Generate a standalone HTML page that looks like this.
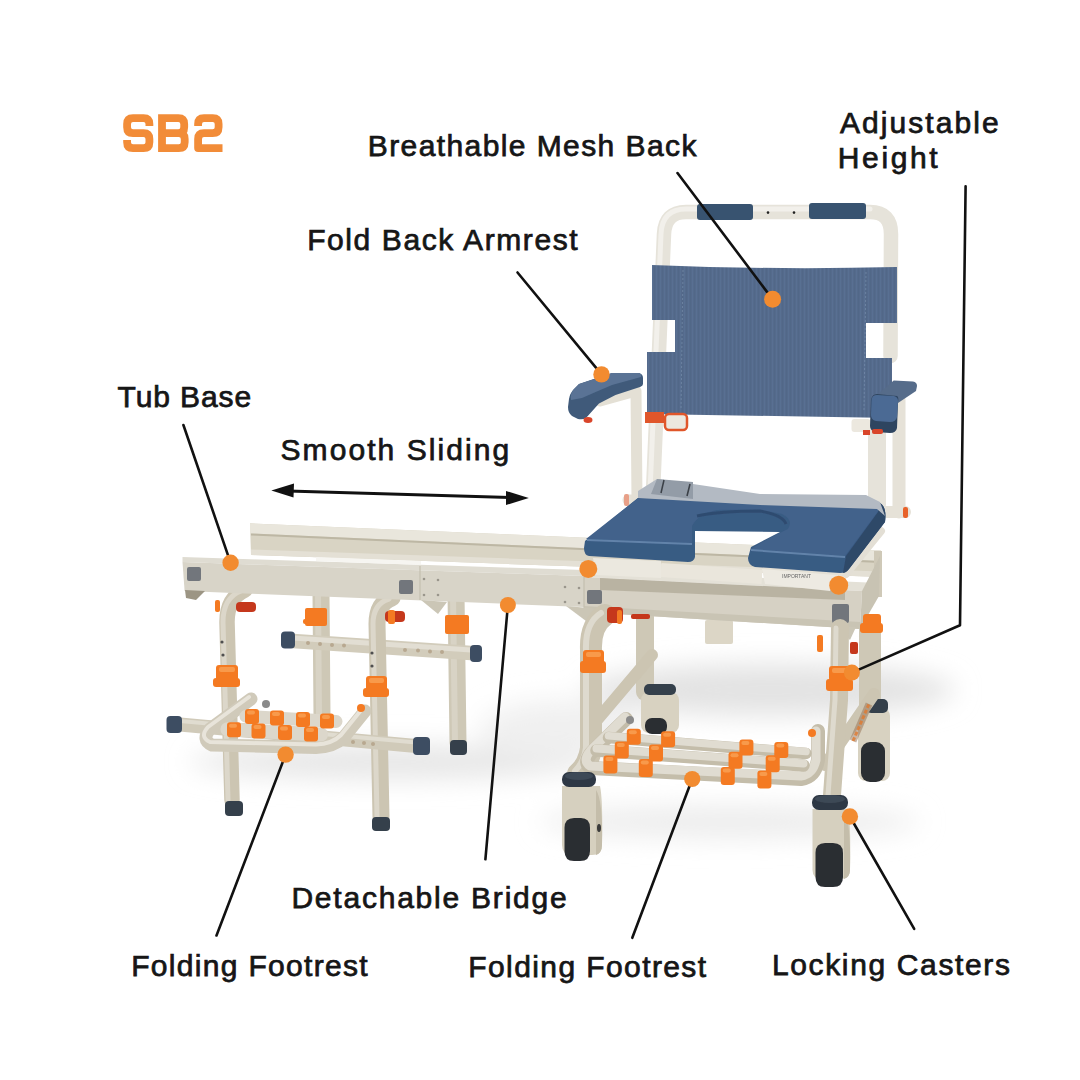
<!DOCTYPE html>
<html><head><meta charset="utf-8">
<style>
html,body{margin:0;padding:0;background:#fff;width:1080px;height:1080px;overflow:hidden}
svg{display:block}
.lb{font-family:"Liberation Sans",sans-serif;font-size:30px;fill:#161616;stroke:#161616;stroke-width:0.75px}
.cl{stroke:#111;stroke-width:2.6;fill:none;stroke-linecap:round;stroke-linejoin:round}
.dot{fill:#F28B30}
.tb{fill:none;stroke-linecap:round;stroke-linejoin:round}
</style></head><body>
<svg width="1080" height="1080" viewBox="0 0 1080 1080">
<defs>
<filter id="blur" x="-50%" y="-50%" width="200%" height="200%"><feGaussianBlur stdDeviation="13"/></filter>
<pattern id="mesh" width="4" height="6" patternUnits="userSpaceOnUse"><rect width="4" height="6" fill="#546B8C"/><rect x="0" y="0" width="1" height="6" fill="#6179A0" opacity="0.3"/><rect x="2" y="0" width="1" height="6" fill="#485E7E" opacity="0.3"/></pattern>
<filter id="soft" x="-5%" y="-5%" width="110%" height="110%"><feGaussianBlur stdDeviation="0.55"/></filter>
</defs>
<rect width="1080" height="1080" fill="#fff"/>

<!-- shadow -->
<g filter="url(#blur)">
<ellipse cx="770" cy="690" rx="185" ry="26" fill="#e3e3e3"/>
<ellipse cx="730" cy="822" rx="190" ry="16" fill="#ececec"/>
<ellipse cx="390" cy="762" rx="200" ry="17" fill="#e6e6e6"/>
<ellipse cx="560" cy="730" rx="80" ry="30" fill="#f0f0f0"/>
</g>

<!-- SB2 logo -->
<g fill="none" stroke="#F28C38" stroke-width="7.8" stroke-linejoin="round">
<path d="M149.4,126 V124 Q149.4,118.1 143.5,118.1 H133 Q127.1,118.1 127.1,124 V127.2 Q127.1,133.1 133,133.1 H143.5 Q149.4,133.1 149.4,139 V142.2 Q149.4,148.1 143.5,148.1 H133 Q127.1,148.1 127.1,142.2 V140"/>
<path d="M162,118.1 H178.3 Q184.2,118.1 184.2,124 V127.2 Q184.2,133.1 178.3,133.1 H162 M162,133.1 H178.8 Q184.7,133.1 184.7,139 V142.2 Q184.7,148.1 178.8,148.1 H162 M162,114.2 V152"/>
<path d="M198.1,126 V124 Q198.1,118.1 204,118.1 H212.7 Q218.6,118.1 218.6,124 V127.2 Q218.6,133.1 212.7,133.1 H204 Q198.1,133.1 198.1,139 V148.1 H222.5"/>
</g>

<!-- ============ CHAIR ============ -->
<g id="chair" filter="url(#soft)">
<!-- ===== left group: rear legs ===== -->
<g class="tb" stroke="#CEC8B6" stroke-linecap="butt">
<path d="M321,594 L322,716" stroke-width="17"/>
<path d="M456,594 L458,743" stroke-width="17"/>
</g>
<g class="tb" stroke="#D8D3C5" stroke-linecap="butt">
<path d="M318,594 L319,716" stroke-width="6"/>
<path d="M453,594 L455,743" stroke-width="6"/>
</g>
<rect x="450" y="740" width="17" height="15" rx="4" fill="#34404C"/>
<!-- rear crossbar -->
<path d="M293,641 L471,653" stroke="#D2CCBB" stroke-width="14.5"/>
<path d="M293,638 L471,650" stroke="#E2DED3" stroke-width="5"/>
<g fill="#B8A890">
<circle cx="308" cy="643" r="2"/><circle cx="320" cy="644" r="2"/><circle cx="332" cy="645" r="2"/><circle cx="344" cy="645.5" r="2"/>
<circle cx="405" cy="650" r="2"/><circle cx="418" cy="650.5" r="2"/><circle cx="430" cy="651.5" r="2"/><circle cx="442" cy="652" r="2"/>
</g>
<g fill="#3D4D62">
<rect x="281" y="631.5" width="14" height="17" rx="4"/>
<rect x="470" y="645" width="12" height="17" rx="4"/>
</g>
<g fill="#F47A22">
<rect x="305" y="608" width="22" height="18" rx="2"/>
<rect x="445" y="615" width="24" height="19" rx="2"/>
</g>
<rect x="303" y="619" width="10" height="5" rx="2" fill="#F47A22"/>

<!-- ===== chair rear legs & casters ===== -->
<g class="tb" stroke="#CEC8B6" stroke-linecap="butt">
<path d="M645,612 L645,692" stroke-width="18"/>
<path d="M870,628 L870,705" stroke-width="22"/>
</g>
<g>
<rect x="641" y="692" width="38" height="41" rx="8" fill="#D8D2C1"/>
<rect x="644" y="684" width="32" height="11" rx="5" fill="#34404C"/>
<rect x="645" y="718" width="22" height="16" rx="7" fill="#2A2D31"/>
<rect x="858" y="708" width="32" height="73" rx="8" fill="#D8D2C1"/>
<rect x="861" y="742" width="24" height="40" rx="9" fill="#2A2D31"/>
<rect x="866" y="699" width="22" height="14" rx="5" fill="#34404C"/>
</g>
<rect x="705" y="620" width="28" height="24" rx="2" fill="#DCD6C6"/>

<!-- ===== upper sliding rail ===== -->
<polygon points="250,523.3 881,550.5 881,577 251,555" fill="#D9D4C4"/>
<polygon points="250,523.3 881,550.5 881,561 250,533.5" fill="#E9E6DC"/>
<path d="M251,534.5 L881,562" stroke="#BDB7A4" stroke-width="2"/>
<polygon points="251,549.5 881,571.5 881,577 251,555" fill="#E4E0D5"/>
<polygon points="874,551 882,551 882,597 874,597" fill="#CFC9B8"/>

<!-- ===== back frame ===== -->
<path class="tb" d="M653,492 L664,234 Q665,212 686,212 L870,212 Q891,212 891,234 L890.5,356" stroke="#E6E3DA" stroke-width="14.5" stroke-linecap="butt"/>
<path class="tb" d="M877,425 L877,505" stroke="#E6E3DA" stroke-width="18"/>
<path class="tb" d="M650,492 L661,234 Q662,209 686,209 L870,209" stroke="#F2F0EB" stroke-width="5"/>
<path class="tb" d="M899,400 L899,512" stroke="#E6E2D8" stroke-width="13"/>
<path class="tb" d="M877,512 L905,512" stroke="#E6E2D8" stroke-width="12"/>
<rect x="903" y="507" width="5" height="11" rx="2" fill="#E8622C"/>
<path class="tb" d="M628,500 L650,500" stroke="#E6E2D8" stroke-width="11"/>
<rect x="624" y="494" width="5" height="12" rx="2" fill="#E8A088"/>
<g fill="#37536F">
<rect x="697" y="204" width="56" height="16" rx="3"/>
<rect x="809" y="203" width="57" height="16" rx="3"/>
</g>
<circle cx="768" cy="212.6" r="1.3" fill="#222"/>
<circle cx="794" cy="212.6" r="1.3" fill="#222"/>

<!-- ===== mesh back ===== -->
<path d="M652,265 Q775,270 897,267 L897,323 L866,323 L866,358 L892,358 L892,418 L647,414 L647,352 L675,352 L675,320 L652,320 Z" fill="url(#mesh)"/>
<g stroke="#7D93B0" stroke-width="1" stroke-dasharray="2 2" opacity="0.6">
<line x1="683" y1="270" x2="681" y2="410"/>
<line x1="866" y1="272" x2="864" y2="410"/>
</g>
<!-- hinges under back -->
<rect x="645" y="412" width="19" height="11" fill="#E0562A"/>
<rect x="665" y="414" width="22" height="16" rx="4" fill="#ECE8DF" stroke="#E0562A" stroke-width="2.5"/>
<rect x="851.5" y="419" width="19" height="13" rx="3" fill="#ECE8DF"/>
<rect x="863" y="430" width="7" height="5" fill="#D9452A"/>

<!-- left armrest support -->
<path class="tb" d="M600,401 L636,391 L637,500" stroke="#E4E0D5" stroke-width="11"/>
<!-- left armrest -->
<path d="M612,373 L639,373 Q643,374 643,378 L643,384 Q643,386 640,387 L615.5,395 L599,403.5 L586,418 Q583,420 578,419 L572,416 Q568,413 568,407 L569,399 Q570,393 574,389 L579,384 Z" fill="#3F5A7A"/>
<path d="M612,373 L639,373 Q642,374 641,377 L612,385 L598,391 L582,398 L571,400 Q570,393 574,389 L579,384 Z" fill="#5A7395"/>
<ellipse cx="588" cy="420" rx="4.5" ry="3" fill="#D9452A"/>
<!-- right armrest -->
<path d="M893.7,380.4 L913,381.5 Q917,382 917,386 L916,391 L898,403 L877,395 Z" fill="#566C8A"/>
<path d="M877,394 L897,396 Q899,397 898,402 L897,428 Q896,433 890,433 L876,432 Q870,431 870,426 L871,400 Q872,394 877,394 Z" fill="#2F4560"/>
<path d="M877,395 L894,396 Q898,397 898,401 L897,417 Q896,422 890,422 L876,421 Q871,420 871,415 L871.5,400 Q872,395 877,395 Z" fill="#4C6B94"/>
<rect x="872" y="429" width="11" height="5" rx="2" fill="#D9452A"/>

<!-- ===== seat ===== -->
<!-- right carriage strip -->
<path d="M846,574 L881,531" stroke="#E3DFD5" stroke-width="8" stroke-linecap="round"/>
<path d="M638,498 L880,503 Q887,507 885,522 L849,569 Q846,573 840,573 L755,567 Q748,565 748,558 L751,547 L780,532 L695,531 L695,557 Q694,562 688,562 L589,556 Q584,555 584,548 L585,541 Z" fill="#395B83"/>
<path d="M880,503 Q887,507 885,522 L849,569 Q846,573 843,573 L846,556 L878,512 Z" fill="#2F4868"/>
<path d="M638,498 L878,503 Q881,509 876,514 L845,556 L751,549 Q770,537 788,529 Q794,520 782,514 Q760,509 717,510 Q699,513 692,526 L692,543 L586,539 Z" fill="#42628B"/>
<path d="M587,540 L692,544" stroke="#6283AA" stroke-width="2"/>
<path d="M751,550 L845,557" stroke="#6283AA" stroke-width="2"/>
<path d="M697,516 Q720,511 760,511 Q783,515 786,524" stroke="#2F4C70" stroke-width="3" fill="none"/>
<!-- belt -->
<polygon points="638,491 657,479 693,484 760,494 866,495 880,502 885,516 877,509 760,505 638,498" fill="#B3BAC3"/>
<polygon points="657,479 693,482 693,499 651,494" fill="#939CA7"/>
<line x1="664" y1="480" x2="661" y2="493" stroke="#3A3F46" stroke-width="1.5"/>
<line x1="690" y1="484" x2="687" y2="496" stroke="#3A3F46" stroke-width="1.5"/>

<!-- left front leg tubes (behind beam) -->
<g class="tb" stroke="#CCC5B2">
<path d="M245,590 Q227,598 227,622 L232,800" stroke-width="15.5"/>
<path d="M392,598 Q377,603 377,624 L381,817" stroke-width="17"/>
</g>
<g class="tb" stroke="#DCD7CA">
<path d="M241,591 Q223,598 223,622 L228,800" stroke-width="5"/>
<path d="M389,599 Q373,604 373,624 L377,817" stroke-width="5"/>
</g>
<!-- ===== beam ===== -->
<!-- left section -->
<polygon points="182.5,557 584,570 584,576 182.5,562" fill="#DFDCD2"/>
<polygon points="182.5,562 584,576 584,607 184.6,591" fill="#D8D4C8"/>
<polygon points="316,557 421,561 421,565 316,561" fill="#F6F5F1"/>
<!-- right section -->
<polygon points="584,570 879,583 862,591 584,577" fill="#E4E1D7"/>
<polygon points="584,577 862,591 860,629 584,612" fill="#D6D1C4"/>
<polygon points="584,606 860,622 860,629 584,612" fill="#C9C4B4"/>
<polygon points="600,578 845,590 845,600 600,590" fill="#A39A86" opacity="0.55"/>
<polygon points="862,591 880,556 879,596 860,629" fill="#C8C3B3"/>
<line x1="584" y1="572" x2="584" y2="612" stroke="#C4BFAF" stroke-width="1.2"/>
<line x1="420" y1="566" x2="420" y2="600" stroke="#C4BFAF" stroke-width="1.2"/>
<!-- flanges -->
<g fill="#CBC6B6">
<polygon points="185,590 205,591 196,600 186,598" fill="#9C9584"/>
<polygon points="421,600 447,602 438,614"/>
<polygon points="566,606 600,609 586,621"/>
<polygon points="836,626 856,627 850,640"/>
</g>
<!-- white tube under seat -->
<path d="M661,570 L762,577" stroke="#EAE6DC" stroke-width="14"/>
<!-- white plates -->
<polygon points="593,558 661,561 661,578 596,575" fill="#EBE8DF"/>
<polygon points="762,569 836,575 830,591 765,584" fill="#EDEAE2"/>
<g fill="#666" font-family="Liberation Sans" font-size="5"><text x="782" y="578">IMPORTANT</text></g>
<!-- brackets -->
<g fill="#72767C">
<rect x="187" y="567" width="14" height="14" rx="2"/>
<rect x="399" y="580" width="14" height="14" rx="2"/>
<rect x="587" y="590" width="15" height="14" rx="2"/>
<rect x="832" y="604" width="17" height="19" rx="2"/>
</g>
<g fill="#9A968C">
<circle cx="424" cy="579" r="1.3"/><circle cx="438" cy="580" r="1.3"/><circle cx="424" cy="595" r="1.3"/><circle cx="438" cy="595" r="1.3"/>
<circle cx="565" cy="587" r="1.3"/><circle cx="579" cy="588" r="1.3"/><circle cx="565" cy="602" r="1.3"/><circle cx="579" cy="603" r="1.3"/>
</g>

<!-- ===== left group: front legs ===== -->
<g fill="#34404C">
<rect x="225" y="801" width="18" height="15" rx="4"/>
<rect x="372" y="817" width="18" height="14" rx="4"/>
</g>
<g fill="#F47A22">
<rect x="216" y="665" width="22" height="16" rx="3"/>
<rect x="213" y="678" width="27" height="9" rx="3"/>
<rect x="366" y="676" width="21" height="15" rx="3"/>
<rect x="363" y="688" width="26" height="9" rx="3"/>
</g>
<g fill="#F89A4C">
<rect x="219" y="667" width="16" height="5" rx="2"/>
<rect x="369" y="678" width="15" height="5" rx="2"/>
</g>
<g fill="#C5391F">
<rect x="236" y="602" width="20" height="10" rx="4"/>
<rect x="385" y="611" width="20" height="11" rx="4"/>
</g>
<g fill="#F47A22">
<rect x="215" y="600" width="5" height="12" rx="2"/>
<rect x="388" y="610" width="7" height="14" rx="2"/>
</g>
<g fill="#505050">
<circle cx="222" cy="642" r="1.6"/><circle cx="223" cy="655" r="1.6"/>
<circle cx="372" cy="653" r="1.6"/><circle cx="372" cy="666" r="1.6"/>
</g>
<!-- front crossbar -->
<path d="M180,724.5 L416,746" stroke="#D0CAB9" stroke-width="14"/>
<path d="M180,721 L416,742.5" stroke="#E0DCD0" stroke-width="4"/>
<g fill="#B8A890"><circle cx="341" cy="741" r="2"/><circle cx="353" cy="742" r="2"/><circle cx="364" cy="743" r="2"/><circle cx="373" cy="744" r="2"/></g>
<g fill="#3D4D62">
<rect x="166.5" y="716" width="15.5" height="17" rx="4"/>
<rect x="413" y="737" width="17" height="18" rx="4"/>
</g>
<!-- left footrest -->
<path class="tb" d="M251,699 L210,729 Q201,740 212,745 L316,747.5 Q334,747 344,737 L365,711" stroke="#D0CABA" stroke-width="13"/>
<path class="tb" d="M249,697 L208,727 Q199,737 210,742 L316,744.5 Q332,744 341,735 L362,709" stroke="#E8E4DA" stroke-width="4"/>
<path class="tb" d="M246,716.3 L336,721.5" stroke="#DCD7CB" stroke-width="13"/>
<path class="tb" d="M227.4,729.3 L321,734.5" stroke="#DCD7CB" stroke-width="14"/>
<g>
<rect x="245.0" y="709.1" width="14" height="15" rx="3" fill="#F47A22"/>
<rect x="247.0" y="710.6" width="8" height="4" rx="2" fill="#F89A4C"/>
<rect x="270.0" y="710.6" width="14" height="15" rx="3" fill="#F47A22"/>
<rect x="272.0" y="712.1" width="8" height="4" rx="2" fill="#F89A4C"/>
<rect x="296.0" y="712.1" width="14" height="15" rx="3" fill="#F47A22"/>
<rect x="298.0" y="713.6" width="8" height="4" rx="2" fill="#F89A4C"/>
<rect x="320.0" y="713.5" width="14" height="15" rx="3" fill="#F47A22"/>
<rect x="322.0" y="715.0" width="8" height="4" rx="2" fill="#F89A4C"/>
<rect x="227.0" y="722.2" width="14" height="15" rx="3" fill="#F47A22"/>
<rect x="229.0" y="723.7" width="8" height="4" rx="2" fill="#F89A4C"/>
<rect x="251.5" y="723.5" width="14" height="15" rx="3" fill="#F47A22"/>
<rect x="253.5" y="725.0" width="8" height="4" rx="2" fill="#F89A4C"/>
<rect x="278.0" y="725.0" width="14" height="15" rx="3" fill="#F47A22"/>
<rect x="280.0" y="726.5" width="8" height="4" rx="2" fill="#F89A4C"/>
<rect x="304.0" y="726.4" width="14" height="15" rx="3" fill="#F47A22"/>
<rect x="306.0" y="727.9" width="8" height="4" rx="2" fill="#F89A4C"/>
</g>
<circle cx="266" cy="704" r="4" fill="#8A8A8A"/>
<circle cx="361" cy="708" r="4" fill="#F47A22"/>

<!-- ===== chair front legs & braces ===== -->
<g class="tb" stroke="#CCC5B2">
<path d="M592,726 L652,655" stroke-width="12"/>
<path d="M825,765 L874,694" stroke-width="12"/>
<path d="M605,615 Q590,625 591,650 L591,748 Q589,764 578,774" stroke-width="22"/>
<path d="M840,628 L839,700 L832,795" stroke-width="18"/>
</g>
<g class="tb" stroke="#DEDACE">
<path d="M601,613 Q585,623 586,650 L586,748 Q584,762 575,771" stroke-width="6"/>
<path d="M836,628 L835,700 L828,795" stroke-width="5"/>
</g>
<path d="M853,741 L869,704" stroke="#9C7A5C" stroke-width="7" opacity="0.55"/>
<path d="M853,741 L869,704" stroke="#E07A30" stroke-width="3" stroke-dasharray="4 2" opacity="0.8"/>
<g fill="#F47A22">
<rect x="583" y="650" width="21" height="15" rx="3"/>
<rect x="580" y="661" width="26" height="12" rx="3"/>
<rect x="829" y="666" width="22" height="15" rx="3"/>
<rect x="826" y="679" width="27" height="12" rx="3"/>
<rect x="863" y="614" width="18" height="13" rx="3"/>
<rect x="860" y="623" width="23" height="10" rx="3"/>
</g>
<g fill="#F89A4C">
<rect x="586" y="652" width="15" height="5" rx="2"/>
<rect x="832" y="668" width="15" height="5" rx="2"/>
</g>
<g fill="#C5391F">
<rect x="607" y="607" width="16" height="16" rx="4"/>
<rect x="850" y="642" width="8" height="12" rx="2"/>
<rect x="631" y="614" width="19" height="5" rx="2"/>
</g>
<g fill="#F47A22">
<rect x="617" y="610" width="5" height="14" rx="2"/>
<rect x="817" y="635" width="6" height="17" rx="2"/>
</g>
<!-- right footrest -->
<path class="tb" d="M626,719 L594,750 Q582,762 591,768 L801,779 Q815,777 818,760 L818,731" stroke="#C4BDAA" stroke-width="14"/>
<path class="tb" d="M625,717 L593,748 Q581,760 590,766 L801,776 Q813,774 816,760 L816,731" stroke="#E0DCD1" stroke-width="9"/>
<path class="tb" d="M608.5,737.6 L806,753.4" stroke="#C4BDAA" stroke-width="11.5"/>
<path class="tb" d="M608.5,735.8 L806,751.6" stroke="#E0DCD1" stroke-width="7.5"/>
<path class="tb" d="M596.5,750.4 L803.5,765.4" stroke="#C4BDAA" stroke-width="12.5"/>
<path class="tb" d="M596.5,748.5 L803.5,763.5" stroke="#E0DCD1" stroke-width="8"/>
<rect x="626.8" y="728.8" width="14" height="16" rx="3" fill="#F47A22"/><rect x="628.8" y="730.3" width="8" height="4" rx="2" fill="#F89A4C"/>
<rect x="661.1" y="731.2" width="14" height="16" rx="3" fill="#F47A22"/><rect x="663.1" y="732.7" width="8" height="4" rx="2" fill="#F89A4C"/>
<rect x="739.4" y="739.6" width="14" height="16" rx="3" fill="#F47A22"/><rect x="741.4" y="741.1" width="8" height="4" rx="2" fill="#F89A4C"/>
<rect x="774.3" y="741.9" width="14" height="16" rx="3" fill="#F47A22"/><rect x="776.3" y="743.4" width="8" height="4" rx="2" fill="#F89A4C"/>
<rect x="614.8" y="741.4" width="14" height="17" rx="3" fill="#F47A22"/><rect x="616.8" y="742.9" width="8" height="4" rx="2" fill="#F89A4C"/>
<rect x="649.0" y="744.5" width="14" height="17" rx="3" fill="#F47A22"/><rect x="651.0" y="746.0" width="8" height="4" rx="2" fill="#F89A4C"/>
<rect x="728.5" y="751.7" width="14" height="17" rx="3" fill="#F47A22"/><rect x="730.5" y="753.2" width="8" height="4" rx="2" fill="#F89A4C"/>
<rect x="765.7" y="755.3" width="14" height="17" rx="3" fill="#F47A22"/><rect x="767.7" y="756.8" width="8" height="4" rx="2" fill="#F89A4C"/>
<rect x="603.4" y="755.4" width="14" height="18" rx="3" fill="#F47A22"/><rect x="605.4" y="756.9" width="8" height="4" rx="2" fill="#F89A4C"/>
<rect x="638.8" y="759.0" width="14" height="18" rx="3" fill="#F47A22"/><rect x="640.8" y="760.5" width="8" height="4" rx="2" fill="#F89A4C"/>
<rect x="720.8" y="766.9" width="14" height="18" rx="3" fill="#F47A22"/><rect x="722.8" y="768.4" width="8" height="4" rx="2" fill="#F89A4C"/>
<rect x="757.4" y="770.4" width="14" height="18" rx="3" fill="#F47A22"/><rect x="759.4" y="771.9" width="8" height="4" rx="2" fill="#F89A4C"/>
<circle cx="630" cy="720" r="4" fill="#8A8A8A"/>
<circle cx="812" cy="733" r="4" fill="#F47A22"/>
<!-- front casters -->
<g>
<path d="M562,786 L600,786 Q603,800 602,845 Q602,855 592,855 L572,855 Q562,855 562,845 Z" fill="#D6D0BF"/>
<path d="M596,790 Q603,800 602,845 Q602,853 596,855 Z" fill="#C4BDAA"/>
<path d="M564.5,828 Q564.5,818 574,818 L581,818 Q590,818 590,828 L590,851 Q590,861 580,861 L574,861 Q564.5,861 564.5,851 Z" fill="#2C2E33"/>
<rect x="562" y="772" width="34" height="15" rx="7" fill="#2F3844"/>
<ellipse cx="579" cy="776" rx="14" ry="4" fill="#3D4856"/>
<ellipse cx="599" cy="828" rx="2" ry="4" fill="#3A3A3A"/>
<path d="M812.5,809 L848,809 Q851,820 850,870 Q850,879 840,879 L822,879 Q812.5,879 812.5,870 Z" fill="#D6D0BF"/>
<path d="M844,812 Q851,820 850,870 Q850,877 844,879 Z" fill="#C4BDAA"/>
<path d="M815.5,853 Q815.5,843 825,843 L833,843 Q843,843 843,853 L843,877 Q843,887 833,887 L825,887 Q815.5,887 815.5,877 Z" fill="#2C2E33"/>
<rect x="812" y="795" width="36" height="15" rx="7" fill="#2F3844"/>
<ellipse cx="830" cy="799" rx="15" ry="4" fill="#3D4856"/>
</g>

</g>

<!-- ============ CALLOUTS ============ -->
<g class="cl">
<line x1="677.5" y1="173" x2="772.6" y2="299.3"/>
<line x1="517.5" y1="272.5" x2="601.5" y2="374.4"/>
<polyline points="965.6,186.3 960,625.2 851.9,672.6"/>
<line x1="183.4" y1="425" x2="230.6" y2="562.8"/>
<line x1="485.4" y1="859.3" x2="507.9" y2="605"/>
<line x1="216.5" y1="935.5" x2="285.6" y2="754.6"/>
<line x1="632.3" y1="937.8" x2="692.2" y2="779"/>
<line x1="914.2" y1="928.8" x2="849.9" y2="816.5"/>
</g>
<!-- arrow -->
<g>
<line x1="288" y1="491" x2="512" y2="497.5" stroke="#111" stroke-width="3"/>
<polygon points="271.3,490.5 294,483.5 293.5,497.5" fill="#111"/>
<polygon points="528.8,498 506,491 506,505" fill="#111"/>
</g>
<g class="dot">
<circle cx="772.6" cy="299.3" r="8.5"/>
<circle cx="601.5" cy="374.4" r="8.2"/>
<circle cx="851.9" cy="672.6" r="8"/>
<circle cx="230.6" cy="562.8" r="8.2"/>
<circle cx="507.9" cy="605" r="8"/>
<circle cx="285.6" cy="754.6" r="8.2"/>
<circle cx="692.2" cy="779" r="8.1"/>
<circle cx="849.9" cy="816.5" r="8.2"/>
<circle cx="588.3" cy="568.9" r="9"/>
<circle cx="838.7" cy="585.2" r="9.5"/>
</g>

<g id="labels">
<text class="lb" x="367.7" y="155.6" textLength="328.7" lengthAdjust="spacing">Breathable Mesh Back</text>
<text class="lb" x="840" y="133.0" textLength="158.7" lengthAdjust="spacing">Adjustable</text>
<text class="lb" x="837.8" y="167.5" textLength="99.9" lengthAdjust="spacing">Height</text>
<text class="lb" x="307.2" y="250.0" textLength="270.4" lengthAdjust="spacing">Fold Back Armrest</text>
<text class="lb" x="117.6" y="407.2" textLength="133.6" lengthAdjust="spacing">Tub Base</text>
<text class="lb" x="280.5" y="459.5" textLength="228.75" lengthAdjust="spacing">Smooth Sliding</text>
<text class="lb" x="291.4" y="907.5" textLength="275.3" lengthAdjust="spacing">Detachable Bridge</text>
<text class="lb" x="131.2" y="975.6" textLength="236.5" lengthAdjust="spacing">Folding Footrest</text>
<text class="lb" x="468.3" y="976.6" textLength="237.8" lengthAdjust="spacing">Folding Footrest</text>
<text class="lb" x="771.9" y="975.4" textLength="238.1" lengthAdjust="spacing">Locking Casters</text>
</g>
</svg>
</body></html>
